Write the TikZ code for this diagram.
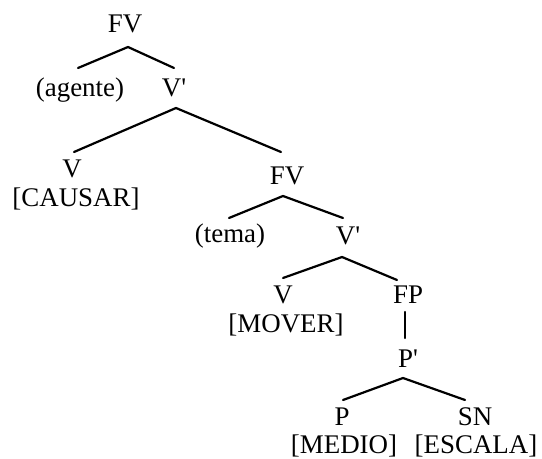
\documentclass[tikz,border=0pt]{standalone}
\usepackage{fontspec}
\setmainfont{Liberation Serif}
\usetikzlibrary{calc}
\tikzset{
  lbl/.style={anchor=base, inner sep=0pt, font=\fontsize{27}{31}\selectfont},
  branch/.style={line width=2.2bp, line cap=round}
}
\newcommand{\pr}{\textquotesingle}
\begin{document}
\begin{tikzpicture}[x=1bp,y=-1bp]
\useasboundingbox (0,0) rectangle (542,459);
\node[lbl] (FV1) at (125,33) {FV};
\node[lbl] (agente) at (80,97) {(agente)};
\node[lbl] (Vp1) at (174,97) {V\pr};
\node[lbl] (V1) at (72,178) {V};
\node[lbl] (CAUSAR) at (76,207) {[CAUSAR]};
\node[lbl] (FV2) at (287,185) {FV};
\node[lbl] (tema) at (230,243) {(tema)};
\node[lbl] (Vp2) at (348,245) {V\pr};
\node[lbl] (V3) at (283,303) {V};
\node[lbl] (MOVER) at (286,332) {[MOVER]};
\node[lbl] (FP) at (408,303) {FP};
\node[lbl] (Pp) at (408,367) {P\pr};
\node[lbl] (P) at (342,425) {P};
\node[lbl] (MEDIO) at (344,453) {[MEDIO]};
\node[lbl] (SN) at (475,425) {SN};
\node[lbl] (ESCALA) at (476,453) {[ESCALA]};

\draw[branch] ($(agente.base)+(-2,-29)$) -- ($(FV1.base)+(3,14)$) -- ($(Vp1.base)+(0,-29)$);
\draw[branch] ($(V1.base)+(2,-26)$) -- ($(Vp1.base)+(2,11)$) -- ($(FV2.base)+(-6,-33)$);
\draw[branch] ($(tema.base)+(-1,-25)$) -- ($(FV2.base)+(-4,11)$) -- ($(Vp2.base)+(-5,-27)$);
\draw[branch] ($(V3.base)+(0,-25)$) -- ($(Vp2.base)+(-6,12)$) -- ($(FP.base)+(-11,-23)$);
\draw[branch] ($(FP.base)+(-3,9)$) -- ($(Pp.base)+(-3,-29)$);
\draw[branch] ($(P.base)+(1,-25)$) -- ($(Pp.base)+(-5,11)$) -- ($(SN.base)+(-10,-25)$);
\end{tikzpicture}
\end{document}
